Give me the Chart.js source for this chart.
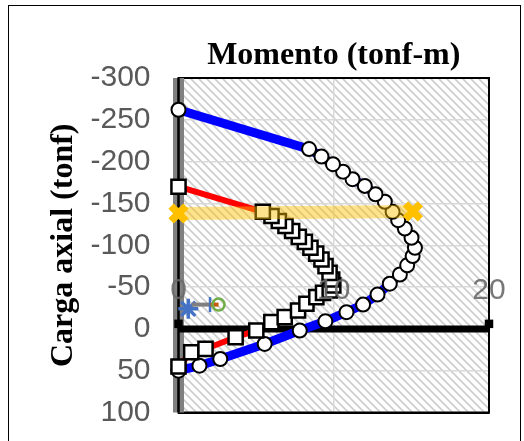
<!DOCTYPE html>
<html>
<head>
<meta charset="utf-8">
<script src="https://cdn.jsdelivr.net/npm/chart.js@4.4.1/dist/chart.umd.min.js"></script>
<style>
    html, body { margin: 0; padding: 0; background: #ffffff; }
    canvas { display: block; }
</style>
</head>
<body>
<canvas id="diagramChart" width="524" height="441"></canvas>
<script>
// Nominal interaction curve (blue, circles), ordered from tension to compression
const nominalM = [0, 1.35, 2.69, 5.55, 7.81, 9.46, 10.82, 11.89, 12.82, 13.61, 14.26, 14.73, 15.08, 15.23, 15.01, 14.58, 14.15, 13.79, 13.29, 12.69, 12.0, 11.21, 10.6, 9.95, 9.21, 8.41, 0];
const nominalP = [50, 44, 36, 18, 2, -9, -20, -29, -41, -54, -65, -76, -87, -97, -109, -120, -130, -140, -152, -161, -171, -179, -188, -197, -206, -215, -262];

// Design interaction curve (red, squares)
const designM = [0, 0.82, 1.74, 3.68, 5.01, 5.98, 6.84, 7.70, 8.24, 8.88, 9.31, 9.74, 9.97, 9.90, 9.73, 9.47, 9.21, 8.87, 8.50, 8.14, 7.75, 7.32, 6.89, 6.46, 5.99, 5.43, 0];
const designP = [45, 28, 24, 10, 2, -8, -14, -22, -30, -38, -43, -46, -52, -59, -67, -75, -83, -90, -97, -104, -110, -117, -123, -129, -135, -140, -170];

// Axial limit line (yellow)
const limitM = [0, 15.1];
const limitP = [-138, -140.5];

// Load points near the origin
const loadGrayM = [0.85, 2.03];
const loadGrayP = [-29, -29];
const loadBrownM = [2.05, 2.58];
const loadBrownP = [-29, -29];
const loadStarM = [0.63];
const loadStarP = [-24];

// Reference axes drawn as series
const zeroLineM = [0, 20];
const zeroLineP = [0, 0];
const zeroEndM = [0, 20];
const zeroEndP = [-6, -6];
const axisBandM = [0, 0];
const axisBandP = [-300, 100];

const xTickValues = [0, 10, 20];
const xTickLabels = ['0', '10', '20'];

function toPoints(xs, ys) {
    return xs.map((x, i) => ({ x: x, y: ys[i] }));
}

function makeHatch(ctx) {
    const tile = document.createElement('canvas');
    tile.width = 8;
    tile.height = 8;
    const g = tile.getContext('2d');
    g.strokeStyle = '#cdcdcd';
    g.lineWidth = 1.6;
    g.beginPath();
    g.moveTo(-1, -1); g.lineTo(9, 9);
    g.moveTo(-1, 7); g.lineTo(1, 9);
    g.moveTo(7, -1); g.lineTo(9, 1);
    g.stroke();
    return ctx.createPattern(tile, 'repeat');
}

const backgroundPlugin = {
    id: 'backgroundPlugin',
    beforeDraw(chart) {
        const { ctx, chartArea } = chart;
        ctx.save();
        ctx.fillStyle = '#ffffff';
        ctx.fillRect(0, 0, chart.width, chart.height);
        // outer frame
        ctx.strokeStyle = '#000000';
        ctx.lineWidth = 1;
        ctx.strokeRect(8.5, 5.5, 512, 460);
        // hatched plot area
        ctx.fillStyle = makeHatch(ctx);
        ctx.fillRect(chartArea.left, chartArea.top, chartArea.width, chartArea.height);
        ctx.restore();
    },
    beforeDatasetsDraw(chart) {
        const { ctx, chartArea } = chart;
        ctx.save();
        ctx.strokeStyle = '#000000';
        ctx.lineWidth = 2;
        ctx.strokeRect(chartArea.left, chartArea.top, chartArea.width, chartArea.height);
        ctx.restore();
    },
    afterDatasetsDraw(chart) {
        // x tick labels sit inside the plot, above the zero line
        const { ctx, scales } = chart;
        ctx.save();
        ctx.font = '30px "Liberation Sans", Arial, sans-serif';
        ctx.fillStyle = 'rgba(105, 105, 105, 0.9)';
        ctx.textAlign = 'center';
        ctx.textBaseline = 'middle';
        const labelY = scales.y.getPixelForValue(-46);
        xTickValues.forEach((v, i) => {
            ctx.fillText(xTickLabels[i], scales.x.getPixelForValue(v), labelY);
        });
        ctx.restore();
    }
};

const datasets = [
    {
        data: toPoints(limitM, limitP),
        showLine: true,
        borderColor: 'rgba(255, 192, 0, 0.45)',
        borderWidth: 13,
        pointStyle: 'crossRot',
        pointRadius: 10.5,
        pointBorderWidth: 7.5,
        pointBorderColor: '#FFC000',
        pointBackgroundColor: '#FFC000'
    },
    {
        data: toPoints(loadBrownM, loadBrownP),
        showLine: true,
        borderColor: '#C55A11',
        borderWidth: 4,
        pointRadius: [0, 6],
        pointBorderWidth: 2.5,
        pointBorderColor: '#70AD47',
        pointBackgroundColor: 'rgba(0,0,0,0)'
    },
    {
        data: toPoints(loadGrayM, loadGrayP),
        showLine: true,
        borderColor: '#7f7f7f',
        borderWidth: 4,
        pointStyle: 'line',
        pointRotation: 90,
        pointRadius: [0, 7.5],
        pointBorderWidth: 2.5,
        pointBorderColor: '#4472C4'
    },
    {
        data: toPoints(loadStarM, loadStarP),
        showLine: false,
        pointStyle: 'star',
        pointRadius: 10,
        pointBorderWidth: 3.5,
        pointBorderColor: '#4472C4'
    },
    {
        data: toPoints(designM, designP),
        showLine: true,
        borderColor: '#FF0000',
        borderWidth: 6,
        pointStyle: 'rect',
        pointRadius: 10,
        pointBorderWidth: 2.5,
        pointBorderColor: '#000000',
        pointBackgroundColor: '#ffffff'
    },
    {
        data: toPoints(nominalM, nominalP),
        showLine: true,
        borderColor: '#0000FF',
        borderWidth: 9,
        pointStyle: 'circle',
        pointRadius: 7,
        pointBorderWidth: 2,
        pointBorderColor: '#000000',
        pointBackgroundColor: '#ffffff'
    },
    {
        data: toPoints(zeroEndM, zeroEndP),
        showLine: false,
        pointStyle: 'rect',
        pointRadius: 6,
        pointBorderWidth: 0,
        pointBackgroundColor: '#000000'
    },
    {
        data: toPoints(zeroLineM, zeroLineP),
        showLine: true,
        borderColor: '#000000',
        borderWidth: 7,
        pointRadius: 0
    },
    {
        data: toPoints(axisBandM, axisBandP),
        showLine: true,
        borderColor: '#000000',
        borderWidth: 2.5,
        pointRadius: 0
    },
    {
        data: toPoints(axisBandM, axisBandP),
        showLine: true,
        borderColor: '#808080',
        borderWidth: 11,
        pointRadius: 0
    }
];

const ctx = document.getElementById('diagramChart').getContext('2d');
new Chart(ctx, {
    type: 'scatter',
    data: { datasets: datasets },
    options: {
        responsive: false,
        animation: false,
        devicePixelRatio: 1,
        datasets: {
            scatter: { clip: false }
        },
        layout: {
            padding: { left: 40.8, top: 36.8, right: 35, bottom: 28.5 }
        },
        plugins: {
            legend: { display: false },
            tooltip: { enabled: false },
            title: {
                display: true,
                text: 'Momento (tonf-m)',
                fullSize: false,
                color: '#000000',
                font: { family: '"Liberation Serif", "Times New Roman", serif', size: 32, weight: 'bold' },
                padding: { top: 0, bottom: 2.8 }
            }
        },
        scales: {
            x: {
                type: 'linear',
                position: 'bottom',
                min: 0,
                max: 20,
                ticks: { display: false, stepSize: 10 },
                grid: { color: '#d9d9d9', lineWidth: 1.5, drawTicks: false },
                border: { display: true, color: '#000000', width: 2 },
                afterFit(scale) { scale.height = 0; }
            },
            y: {
                type: 'linear',
                position: 'left',
                reverse: true,
                min: -300,
                max: 100,
                ticks: {
                    stepSize: 50,
                    padding: 0,
                    color: '#595959',
                    font: { family: '"Liberation Sans", Arial, sans-serif', size: 30 }
                },
                // transparent tick marks give the gap between labels and axis
                grid: { color: '#d9d9d9', lineWidth: 1.5, drawTicks: true, tickLength: 28, tickColor: 'rgba(0,0,0,0)' },
                border: { display: false },
                title: {
                    display: true,
                    text: 'Carga axial (tonf)',
                    color: '#000000',
                    font: { family: '"Liberation Serif", "Times New Roman", serif', size: 32, weight: 'bold' },
                    padding: { top: 4, bottom: 4 }
                },
                afterFit(scale) { scale.width = 137.7; }
            }
        }
    },
    plugins: [backgroundPlugin]
});
</script>
</body>
</html>
